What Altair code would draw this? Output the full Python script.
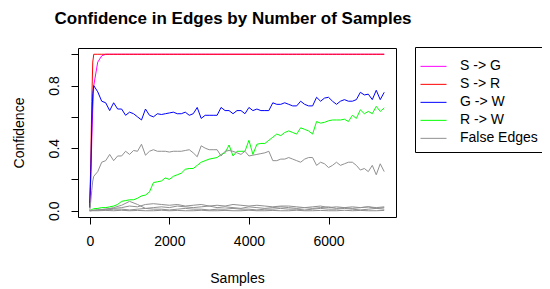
import altair as alt
import pandas as pd

# Sample grid (number of samples)
X_HEAD = [0, 25, 50, 75]
X_TAIL = list(range(100, 7401, 100))
X_MAIN = X_HEAD + X_TAIL
X_COARSE = list(range(0, 7401, 200))

LABELS = ["S -> G", "S -> R", "G -> W", "R -> W", "False Edges"]
COLORS = ["#FF00FF", "#FF0000", "#0000FF", "#00FF00", "#909090"]

s_g = [0.02, 0.2, 0.45, 0.65] + [0.80, 0.95, 0.99] + [1.0] * 71
s_r = [0.05, 0.3, 0.7, 0.95] + [1.0] * 74

g_w = [0.02, 0.25, 0.55, 0.75] + [
    0.80, 0.76, 0.70, 0.69, 0.64, 0.69, 0.65, 0.65, 0.61, 0.63,
    0.62, 0.60, 0.58, 0.65, 0.61, 0.60, 0.62, 0.615, 0.62, 0.625,
    0.63, 0.62, 0.62, 0.63, 0.61, 0.62, 0.66, 0.59, 0.61, 0.61,
    0.61, 0.61, 0.66, 0.64, 0.64, 0.62, 0.64, 0.64, 0.62, 0.66,
    0.64, 0.65, 0.64, 0.64, 0.64, 0.69, 0.68, 0.68, 0.69, 0.68,
    0.67, 0.67, 0.70, 0.68, 0.67, 0.67, 0.725, 0.70, 0.72, 0.725,
    0.70, 0.68, 0.70, 0.71, 0.70, 0.70, 0.71, 0.757, 0.74, 0.745,
    0.71, 0.77, 0.71, 0.757]

r_w = [0.0, 0.005, 0.008, 0.01] + [
    0.013, 0.015, 0.02, 0.02, 0.025, 0.03, 0.04, 0.06, 0.065, 0.07,
    0.07, 0.08, 0.095, 0.10, 0.12, 0.18, 0.185, 0.19, 0.21, 0.20,
    0.22, 0.23, 0.24, 0.265, 0.27, 0.27, 0.29, 0.31, 0.32, 0.33,
    0.335, 0.34, 0.36, 0.37, 0.42, 0.35, 0.38, 0.38, 0.38, 0.45,
    0.36, 0.425, 0.43, 0.43, 0.45, 0.47, 0.49, 0.48, 0.50, 0.51,
    0.50, 0.49, 0.53, 0.52, 0.51, 0.49, 0.57, 0.56, 0.565, 0.575,
    0.58, 0.58, 0.58, 0.585, 0.57, 0.61, 0.59, 0.645, 0.62, 0.635,
    0.62, 0.667, 0.635, 0.657]

false_1 = [0.0, 0.06, 0.13, 0.19] + [
    0.22, 0.25, 0.31, 0.32, 0.36, 0.32, 0.35, 0.35, 0.38, 0.36,
    0.385, 0.38, 0.425, 0.355, 0.38, 0.39, 0.38, 0.38, 0.38, 0.375,
    0.38, 0.38, 0.38, 0.385, 0.39, 0.37, 0.345, 0.415, 0.40, 0.39,
    0.39, 0.39, 0.35, 0.38, 0.385, 0.38, 0.37, 0.36, 0.38, 0.35,
    0.355, 0.36, 0.365, 0.37, 0.38, 0.32, 0.32, 0.33, 0.33, 0.34,
    0.33, 0.32, 0.31, 0.33, 0.34, 0.34, 0.29, 0.31, 0.30, 0.276,
    0.29, 0.31, 0.29, 0.30, 0.31, 0.31, 0.29, 0.26, 0.27, 0.25,
    0.29, 0.23, 0.30, 0.25]

false_2 = [0.0, 0.005, 0.01, 0.015, 0.02, 0.03, 0.025, 0.04, 0.045, 0.04,
           0.035, 0.04, 0.03, 0.035, 0.04, 0.03, 0.035, 0.03, 0.04, 0.035,
           0.03, 0.035, 0.03, 0.025, 0.03, 0.03, 0.025, 0.02, 0.025, 0.03,
           0.02, 0.025, 0.02, 0.025, 0.02, 0.025, 0.015, 0.02]
false_3 = [0.0, 0.005, 0.01, 0.02, 0.035, 0.06, 0.04, 0.015, 0.02, 0.025,
           0.02, 0.03, 0.025, 0.02, 0.025, 0.03, 0.02, 0.025, 0.02, 0.015,
           0.025, 0.02, 0.015, 0.02, 0.025, 0.02, 0.015, 0.02, 0.015, 0.02,
           0.025, 0.015, 0.02, 0.015, 0.02, 0.025, 0.02, 0.025]
false_4 = [0.0, 0.005, 0.005, 0.01, 0.01, 0.005, 0.01, 0.015, 0.01, 0.01,
           0.005, 0.01, 0.015, 0.01, 0.01, 0.005, 0.01, 0.01, 0.015, 0.01,
           0.01, 0.005, 0.01, 0.01, 0.015, 0.01, 0.01, 0.005, 0.01, 0.015,
           0.01, 0.01, 0.015, 0.01, 0.005, 0.01, 0.015, 0.01]
false_5 = [0.0, 0.0, 0.002, 0.0, 0.003, 0.0, 0.002, 0.0, 0.0, 0.003,
           0.0, 0.002, 0.0, 0.0, 0.003, 0.0, 0.0, 0.002, 0.0, 0.0,
           0.003, 0.0, 0.0, 0.002, 0.0, 0.0, 0.003, 0.0, 0.0, 0.002,
           0.0, 0.0, 0.003, 0.0, 0.002, 0.0, 0.0, 0.002]

series = [
    ("sg", "S -> G", X_MAIN, s_g),
    ("sr", "S -> R", X_MAIN, s_r),
    ("gw", "G -> W", X_MAIN, g_w),
    ("rw", "R -> W", X_MAIN, r_w),
    ("f1", "False Edges", X_MAIN, false_1),
    ("f2", "False Edges", X_COARSE, false_2),
    ("f3", "False Edges", X_COARSE, false_3),
    ("f4", "False Edges", X_COARSE, false_4),
    ("f5", "False Edges", X_COARSE, false_5),
]

rows = []
for order, (sid, lab, xs, ys) in enumerate(series):
    for x, y in zip(xs, ys):
        rows.append({"samples": x, "confidence": y, "label": lab, "sid": sid, "ord": order})
df = pd.DataFrame(rows)

chart = alt.Chart(df).mark_line(strokeWidth=1).encode(
    x=alt.X("samples:Q", scale=alt.Scale(domain=[-296, 7696], nice=False, zero=False),
            axis=alt.Axis(values=[0, 2000, 4000, 6000], format="d", title="Samples",
                          titleY=65, titleBaseline="alphabetic")),
    y=alt.Y("confidence:Q", scale=alt.Scale(domain=[-0.04, 1.04], nice=False, zero=False),
            axis=alt.Axis(values=[0, 0.2, 0.4, 0.6, 0.8, 1.0],
                          labelExpr="round(datum.value*10) % 4 == 0 ? format(datum.value, '.1f') : ''",
                          labelAngle=270, title="Confidence",
                          titleX=-59, titleY=84.5, titleAngle=270,
                          titleAlign="center", titleBaseline="middle")),
    color=alt.Color("label:N", scale=alt.Scale(domain=LABELS, range=COLORS),
                    legend=alt.Legend(title=" ", titleFontSize=4, titlePadding=2.5,
                                      orient="none", legendX=337, legendY=-1,
                                      symbolType="stroke", symbolSize=676, symbolStrokeWidth=1,
                                      clipHeight=15.7, rowPadding=2, padding=5,
                                      labelOffset=13, labelFontSize=14, labelColor="black",
                                      strokeColor="black", fillColor="white", cornerRadius=0)),
    detail="sid:N",
    order="ord:Q",
).properties(
    width=318,
    height=169,
    title=alt.TitleParams("Confidence in Edges by Number of Samples", fontSize=17,
                          fontWeight="bold", color="black", anchor="middle",
                          baseline="alphabetic", offset=6, dx=-4),
    autosize=alt.AutoSizeParams(type="none"),
    padding={"left": 70, "top": 40, "right": 146, "bottom": 72},
).configure(
    font="Liberation Sans",
).configure_view(
    stroke="black", strokeWidth=1,
).configure_axis(
    grid=False, domain=False, tickColor="black", tickSize=7, labelPadding=10,
    labelFontSize=14, titleFontSize=14, labelColor="black", titleColor="black",
    titleFontWeight="normal",
)

chart.save("out.html", embed_options={"renderer": "svg", "actions": False})
